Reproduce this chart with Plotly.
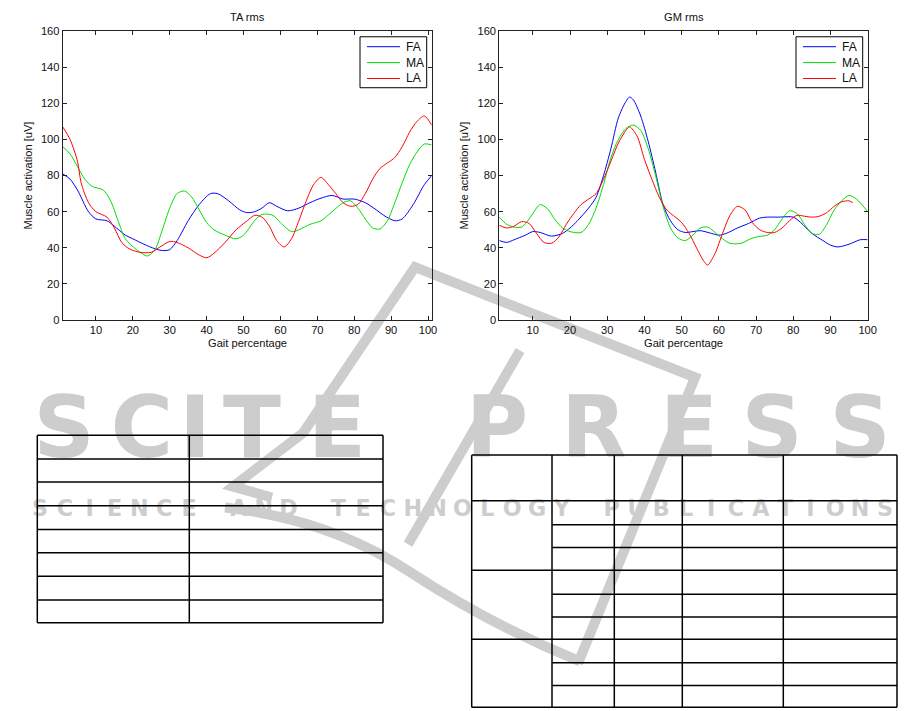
import plotly.graph_objects as go

# ---------------- data ----------------
series_names = ["FA", "MA", "LA"]
series_colors = ["#0000ff", "#00dd00", "#ff0000"]

ta_fa_x = [1,3,5,8,10,13,15,18,20,23,26,28,30,32,35,38,41,43,46,49,51,53,55,57,59,62,65,68,71,74,77,80,83,86,88,91,93,96,99,101]
ta_fa_y = [81,78,72,60,56,55,52,47,45,42,39.5,38.5,39,44,55,64,70,70,66,61,59.5,60,62,65,63,60.5,62,65,67.5,69,67,67,65,61,58,55,56,64,75,80]

ta_ma_x = [1,3,5,7,9,12,14,16,18,21,24,26,28,30,32,34,36,38,40,42,45,48,50,53,55,58,60,63,65,68,71,74,77,79,81,83,85,87,89,91,93,95,97,99,101]
ta_ma_y = [96,92,85,78,74,72,66,55,45,39,35.5,39,50,62,70,71.5,68,61,54,50,47,45,47,55,58.5,58,54,49,50,53,55,60,65,66,62,56,51,50.5,55,65,76,86,93,97.5,97]

ta_la_x = [1,3,5,6,8,10,13,15,17,19,22,25,27,30,32,35,38,40,42,45,48,51,53,55,57,59,61,63,65,67,69,71,73,75,77,79,81,83,85,87,89,91,93,95,97,99,101]
ta_la_y = [107,100,88,76,65,60,57,51,43,39.5,37.5,37.5,40,43.5,43,40,36,34.5,37,43,50,55,58,57,52,44,40.5,45,55,66,75,79,75,70,65,63,64,70,78,84,87,90,96,104,110,113,108]

gm_fa_x = [1,3,5,8,10,12,15,18,20,22,25,27,29,31,33,35,36,37,39,41,43,45,47,49,51,53,55,58,60,62,65,68,71,73,76,80,82,85,88,90,92,95,98,100]
gm_fa_y = [44,43,44.5,47,49,48.5,46.5,48,51,55,62,68,80,95,112,121,123.5,122,113,99,82,64,55,50,48.5,49,49.5,48,47,48,51,53.5,56.5,57,57,57,54,48,44,41.5,40.5,42,44.5,44.5]

gm_ma_x = [1,3,5,7,9,11,12,14,16,18,20,23,25,27,29,31,33,35,37,39,41,43,45,47,49,51,53,55,57,59,61,63,66,68,70,73,75,77,79,81,83,85,87,89,91,93,95,97,100]
gm_ma_y = [57,53,51.5,51.5,56,62,64,61.5,55.5,51,49,48.5,53,62,75,90,100,106,108,105,95,80,63,51,45.5,44,47,51,51.5,48.5,45,42.5,42.5,44.5,46,47,50,56,60.5,59,53,48,47.5,53,61,66,69,67,60]

gm_la_x = [1,3,5,7,9,11,13,15,17,19,21,23,25,27,29,31,33,35,36,38,40,42,44,46,48,50,52,54,56,57,59,61,63,65,67,69,71,73,75,77,79,81,83,85,87,89,91,93,95,96]
gm_la_y = [52.5,51,52,54.5,53.5,48,43,42.5,46,53,59,64,67,70,78,88,98,105,107,102,89,78,68,61,57.5,54,48,40,32.5,30.5,37,48,58,63,61,54,50,48.5,48.5,51,55,58,57.5,57,57.5,59.5,63,65.5,66,65]

chart_titles = ["TA rms", "GM rms"]
x_title = "Gait percentage"
y_title = "Muscle activation [uV]"
x_ticks = [10, 20, 30, 40, 50, 60, 70, 80, 90, 100]
y_ticks = [0, 20, 40, 60, 80, 100, 120, 140, 160]

watermark_big = "SCITEPRESS"
watermark_small = "SCIENCE AND TECHNOLOGY PUBLICATIONS"

# ---------------- figure ----------------
W, H = 915, 711            # reference pixel frame
K = 1.0101                 # page-to-screenshot compensation
DY = 3                     # small vertical compensation
FONT = "Liberation Sans, Arial, Helvetica, sans-serif"
GRAY = "rgb(205,205,205)"

def fs(s):
    return s * K

fig = go.Figure()

big_x = [64, 142, 195, 252, 337, 497, 594, 689, 772, 860]
fig.add_trace(go.Scatter(
    x=big_x, y=[436] * len(watermark_big), text=list(watermark_big), mode="text",
    textfont=dict(family="DejaVu Sans", size=fs(84), color=GRAY, weight="bold"),
    xaxis="x", yaxis="y", showlegend=False, hoverinfo="skip"))
n = len(watermark_small)
small_x = [40 + i * (885 - 40) / (n - 1) for i in range(n)]
fig.add_trace(go.Scatter(
    x=small_x, y=[511] * n, text=list(watermark_small), mode="text",
    textfont=dict(family="DejaVu Sans", size=fs(22), color=GRAY, weight="bold"),
    xaxis="x", yaxis="y", showlegend=False, hoverinfo="skip"))

def add_series(xs, ys, name, color, xa, ya):
    fig.add_trace(go.Scatter(
        x=xs, y=ys, name=name, mode="lines", line=dict(color=color, width=1, shape="spline", smoothing=0.8),
        xaxis=xa, yaxis=ya, showlegend=False, hoverinfo="skip"))

ta = [(ta_fa_x, ta_fa_y), (ta_ma_x, ta_ma_y), (ta_la_x, ta_la_y)]
gm = [(gm_fa_x, gm_fa_y), (gm_ma_x, gm_ma_y), (gm_la_x, gm_la_y)]
for (xs, ys), nm, c in zip(ta, series_names, series_colors):
    add_series(xs, ys, nm, c, "x2", "y2")
for (xs, ys), nm, c in zip(gm, series_names, series_colors):
    add_series(xs, ys, nm, c, "x3", "y3")

ax_common = dict(showline=True, linecolor="#222", linewidth=1, mirror="ticks", ticks="inside",
                 ticklen=4, tickcolor="#222", showgrid=False, zeroline=False,
                 tickfont=dict(family=FONT, size=fs(11), color="#111"))

def px_x(p):
    return p / W

def px_y(p):
    return 1 - (p - DY) / H

left_dom = [px_x(62.7), px_x(431.7)]
right_dom = [px_x(499.3), px_x(867.7)]
ydom = [px_y(319.3), px_y(28.3)]

fig.update_layout(
    width=round(W * K), height=round(H * K), margin=dict(l=0, r=0, t=0, b=0),
    paper_bgcolor="white", plot_bgcolor="rgba(0,0,0,0)", showlegend=False,
    xaxis=dict(domain=[0, 1], range=[0, W], visible=False, fixedrange=True),
    yaxis=dict(domain=[0, 1], range=[H + DY, DY], visible=False, fixedrange=True),
    xaxis2=dict(domain=left_dom, range=[1, 101], anchor="y2", tickvals=x_ticks, **ax_common),
    yaxis2=dict(domain=ydom, range=[0, 160], anchor="x2", tickvals=y_ticks, **ax_common),
    xaxis3=dict(domain=right_dom, range=[1, 100], anchor="y3", tickvals=x_ticks, **ax_common),
    yaxis3=dict(domain=ydom, range=[0, 160], anchor="x3", tickvals=y_ticks, **ax_common),
)

for dom, t in zip([left_dom, right_dom], chart_titles):
    cx = (dom[0] + dom[1]) / 2
    fig.add_annotation(x=cx, y=px_y(14.5), xref="paper", yref="paper", text=t, showarrow=False,
                       font=dict(family=FONT, size=fs(11), color="#111"), xanchor="center", yanchor="middle")
    fig.add_annotation(x=cx, y=px_y(342.5), xref="paper", yref="paper", text=x_title, showarrow=False,
                       font=dict(family=FONT, size=fs(11), color="#111"), xanchor="center", yanchor="middle")
for xc in [28, 464]:
    fig.add_annotation(x=px_x(xc), y=(ydom[0] + ydom[1]) / 2, xref="paper", yref="paper", text=y_title,
                       textangle=-90, showarrow=False, font=dict(family=FONT, size=fs(11), color="#111"),
                       xanchor="center", yanchor="middle")

# legends drawn as boxed keys (one per chart)
for box_right in [426.7, 862.7]:
    bx0 = box_right - 66.7
    fig.add_shape(type="rect", x0=bx0, x1=box_right, y0=34, y1=85.3, xref="x", yref="y",
                  layer="above", fillcolor="white", line=dict(color="black", width=1))
    for i, (nm, c) in enumerate(zip(series_names, series_colors)):
        yy = 44 + 16 * i
        fig.add_shape(type="line", x0=bx0 + 7, x1=bx0 + 40, y0=yy, y1=yy, xref="x", yref="y",
                      layer="above", line=dict(color=c, width=1))
        fig.add_annotation(x=bx0 + 44, y=yy, xref="x", yref="y", text=nm, showarrow=False,
                           xanchor="left", yanchor="middle", font=dict(family=FONT, size=fs(12), color="#111"))

# approximate watermark logo strokes
logo_paths = [
    "M 272,498 L 233,487 L 303,433 L 415,266 L 695,377 L 578,665",
    "M 520,350 L 408,545",
    "M 225,508 Q 330,520 410,573 T 580,663",
]
for p in logo_paths:
    fig.add_shape(type="path", path=p, xref="x", yref="y", layer="below",
                  line=dict(color=GRAY, width=10))

def hline(x0, x1, y):
    fig.add_shape(type="line", x0=x0, x1=x1, y0=y, y1=y, xref="x", yref="y", layer="above",
                  line=dict(color="black", width=1.5))

def vline(x, y0, y1):
    fig.add_shape(type="line", x0=x, x1=x, y0=y0, y1=y1, xref="x", yref="y", layer="above",
                  line=dict(color="black", width=1.5))

lt_cols = [37.3, 189.3, 383]
lt_rows = [435.3, 459.3, 482.3, 506.3, 530.3, 553.7, 577.3, 601.3, 624]
for y in lt_rows:
    hline(lt_cols[0], lt_cols[-1], y)
for x in lt_cols:
    vline(x, lt_rows[0], lt_rows[-1])

rt_cols = [471.7, 552, 614.3, 682.3, 783.3, 897]
rt_rows = [455.3, 501.3, 525.3, 548.3, 571.3, 595.3, 618.3, 640.7, 664.3, 687.3, 709.3]
full_rows = {455.3, 501.3, 571.3, 640.7, 709.3}
for y in rt_rows:
    hline(rt_cols[0] if y in full_rows else rt_cols[1], rt_cols[-1], y)
for x in rt_cols:
    vline(x, rt_rows[0], rt_rows[-1])

fig.write_html("out.html", config={"displayModeBar": False},
               post_script="document.body.style.margin='0';document.body.style.overflow='hidden';")
